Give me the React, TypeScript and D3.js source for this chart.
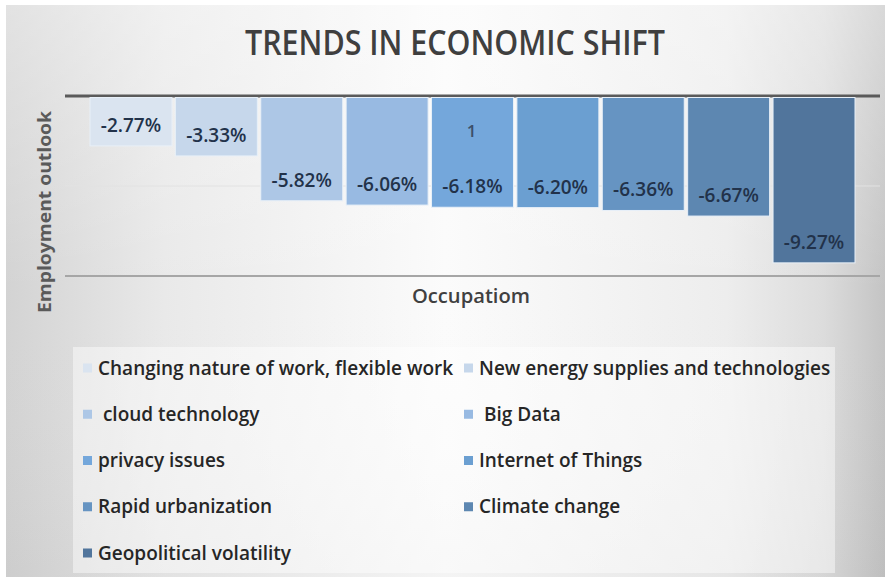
import React from "react";
import * as d3 from "d3";

const title = "TRENDS IN ECONOMIC SHIFT";
const yAxisTitle = "Employment outlook";
const xAxisTitle = "Occupatiom";
const categoryLabel = "1";

const series = [
  "Changing nature of work, flexible work",
  "New energy supplies and technologies",
  " cloud technology",
  " Big Data",
  "privacy issues",
  "Internet of Things",
  "Rapid urbanization",
  "Climate change",
  "Geopolitical volatility",
];
const values = [-2.77, -3.33, -5.82, -6.06, -6.18, -6.2, -6.36, -6.67, -9.27];
const colors = [
  "#dae4f0",
  "#c6d7eb",
  "#adc7e6",
  "#98bae2",
  "#74a7db",
  "#6b9fd1",
  "#6694c2",
  "#5d87b1",
  "#51759c",
];
const yTicks = [0, -5, -10];

const W = 885;
const H = 577;

export default function App() {
  const y = d3.scaleLinear().domain([-10, 0]).range([276, 96]);
  const x = d3
    .scaleBand<string>()
    .domain(series)
    .range([90, 855])
    .paddingInner(0.04)
    .paddingOuter(0);
  const plotLeft = 65;
  const plotRight = 880;
  const fmt = (v: number) => `${v.toFixed(2)}%`;

  const legendRows = Math.ceil(series.length / 2);
  const legendY = d3
    .scalePoint<number>()
    .domain(d3.range(legendRows))
    .range([368, 553]);
  const legendX = [83, 464];

  return (
    <svg
      width={W}
      height={H}
      style={{ position: "absolute", left: 0, top: 0, background: "#ffffff" }}
      fontFamily="'Open Sans', Lato, sans-serif"
    >
      <defs>
        <linearGradient id="bg" x1="0" x2="1" y1="0" y2="0">
          <stop offset="0" stopColor="#d3d3d3" />
          <stop offset="0.18" stopColor="#e9e9e9" />
          <stop offset="0.5" stopColor="#fbfbfb" />
          <stop offset="0.82" stopColor="#ededed" />
          <stop offset="0.93" stopColor="#dcdcdc" />
          <stop offset="1" stopColor="#c4c4c4" />
        </linearGradient>
        <linearGradient id="bgv" x1="0" x2="0" y1="0" y2="1">
          <stop offset="0" stopColor="#ffffff" stopOpacity="0.35" />
          <stop offset="0.5" stopColor="#ffffff" stopOpacity="0" />
          <stop offset="1" stopColor="#000000" stopOpacity="0.03" />
        </linearGradient>
      </defs>
      <rect x={6} y={5} width={W - 6} height={H - 5} fill="url(#bg)" />
      <rect x={6} y={5} width={W - 6} height={H - 5} fill="url(#bgv)" />

      <text
        x={455}
        y={55}
        textAnchor="middle"
        fontSize={35}
        fontWeight={600}
        fill="#3f3f3f"
        textLength={420}
        lengthAdjust="spacingAndGlyphs"
      >
        {title}
      </text>

      {/* gridlines */}
      {yTicks.map((t) => (
        <line
          key={t}
          x1={plotLeft}
          x2={plotRight}
          y1={y(t)}
          y2={y(t)}
          stroke={t === 0 ? "#5a5a5a" : t === -10 ? "#a6a6a6" : "#e2e2e2"}
          strokeWidth={t === 0 ? 3 : t === -10 ? 2 : 1}
        />
      ))}

      {/* bars */}
      {series.map((s, i) => {
        const v = values[i];
        const x0 = x(s) as number;
        const top = y(0) + 1.5;
        const bottom = y(v);
        return (
          <g key={s}>
            <rect
              x={x0}
              y={top}
              width={x.bandwidth()}
              height={bottom - top}
              fill={colors[i]}
              stroke="#e8f0f8"
              strokeWidth={1}
            />
            <text
              x={x0 + x.bandwidth() / 2}
              y={bottom - 14}
              textAnchor="middle"
              fontSize={19}
              fontWeight={600}
              fill="#22324a"
            >
              {fmt(v)}
            </text>
          </g>
        );
      })}

      <text
        x={(plotLeft + plotRight) / 2 - 1}
        y={137}
        textAnchor="middle"
        fontSize={17}
        fontWeight={600}
        fill="#3c4f6a"
      >
        {categoryLabel}
      </text>

      {/* axis titles */}
      <text
        transform={`translate(51, 212) rotate(-90)`}
        textAnchor="middle"
        fontSize={17}
        fontWeight={700}
        fill="#5a5a5a"
        textLength={202}
        lengthAdjust="spacingAndGlyphs"
      >
        {yAxisTitle}
      </text>
      <text
        x={471}
        y={303}
        textAnchor="middle"
        fontSize={19}
        fontWeight={600}
        fill="#404040"
        textLength={118}
        lengthAdjust="spacingAndGlyphs"
      >
        {xAxisTitle}
      </text>

      {/* legend */}
      <rect x={73} y={347} width={762} height={226} fill="#ffffff" fillOpacity={0.45} />
      {series.map((s, i) => {
        const col = i % 2;
        const row = Math.floor(i / 2);
        const cy = legendY(row) as number;
        return (
          <g key={`lg-${s}`}>
            <rect
              x={legendX[col]}
              y={cy - 4.5}
              width={9}
              height={9}
              fill={colors[i]}
            />
            <text
              x={legendX[col] + 15}
              y={cy + 6.5}
              fontSize={19}
              fontWeight={600}
              fill="#262626"
              style={{ whiteSpace: "pre" }}
            >
              {s}
            </text>
          </g>
        );
      })}
    </svg>
  );
}
